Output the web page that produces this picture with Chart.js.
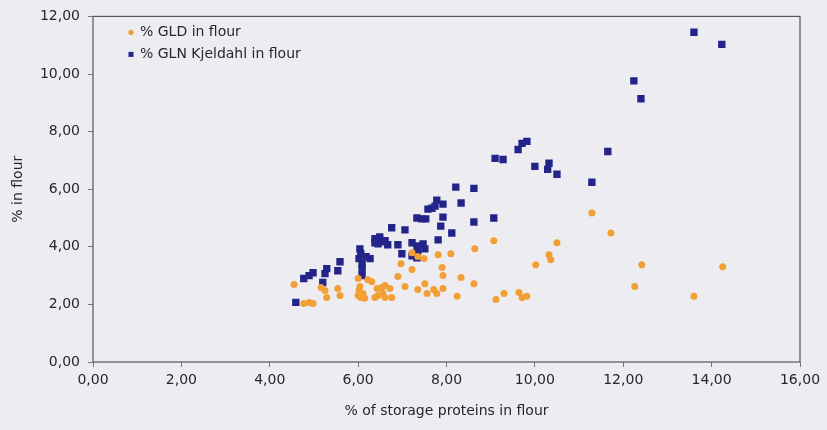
<!DOCTYPE html>
<html>
<head>
<meta charset="utf-8">
<script src="https://cdn.jsdelivr.net/npm/chart.js@4/dist/chart.umd.min.js"></script>
<style>
  html, body { margin: 0; padding: 0; background: #edecf0; }
  #wrap { width: 827px; height: 430px; }
</style>
</head>
<body>
<div id="wrap"><canvas id="chart" width="827" height="430"></canvas></div>
<script>
// x = % of storage proteins in flour, y = % in flour
const gldX = [4.55, 4.77, 4.89, 4.98, 5.16, 5.25, 5.29, 5.54, 5.59, 6.00, 6.04, 6.02, 6.00, 6.06, 6.11, 6.15,
  6.22, 6.31, 6.43, 6.54, 6.61, 6.38, 6.45, 6.56, 6.61, 6.76, 6.72, 6.90, 6.97, 7.06, 7.22, 7.35, 7.49, 7.22,
  7.35, 7.51, 7.56, 7.71, 7.78, 7.92, 7.81, 8.10, 7.90, 7.92, 8.33, 8.62, 8.24, 8.64, 9.07, 9.12, 9.30, 9.64,
  9.71, 9.82, 10.02, 10.32, 10.36, 10.50, 11.29, 11.72, 12.42, 12.26, 13.60, 14.25];
const gldY = [2.69, 2.03, 2.07, 2.03, 2.59, 2.48, 2.24, 2.55, 2.31, 2.90, 2.62, 2.48, 2.31, 2.24, 2.38, 2.21,
  2.86, 2.79, 2.55, 2.59, 2.66, 2.24, 2.31, 2.38, 2.24, 2.24, 2.55, 2.97, 3.41, 2.62, 3.79, 3.66, 3.59, 3.21,
  2.52, 2.72, 2.38, 2.52, 2.38, 2.55, 3.72, 3.76, 3.28, 3.00, 2.93, 2.72, 2.28, 3.93, 4.21, 2.17, 2.38, 2.41,
  2.24, 2.28, 3.38, 3.72, 3.55, 4.14, 5.17, 4.48, 3.38, 2.62, 2.28, 3.31];

const glnX = [4.59, 4.77, 4.89, 4.98, 5.20, 5.25, 5.29, 5.54, 5.59, 6.04, 6.06, 6.02, 6.09, 6.09, 6.18, 6.27,
  6.09, 6.38, 6.49, 6.61, 6.45, 6.67, 6.54, 6.38, 6.76, 7.06, 6.90, 7.22, 7.33, 7.47, 7.51, 7.35, 7.22, 7.33,
  6.99, 7.81, 8.12, 7.92, 7.87, 8.62, 7.33, 7.44, 7.53, 7.58, 7.67, 7.74, 7.78, 7.92, 8.33, 8.21, 8.62, 9.07,
  9.10, 9.28, 9.62, 9.71, 9.82, 10.00, 10.32, 10.29, 10.50, 11.29, 11.65, 12.24, 12.40, 13.60, 14.23];
const glnY = [2.07, 2.90, 3.00, 3.10, 2.76, 3.07, 3.24, 3.17, 3.48, 3.93, 3.76, 3.59, 3.41, 3.24, 3.66, 3.59,
  3.00, 4.28, 4.34, 4.21, 4.10, 4.07, 4.17, 4.14, 4.66, 4.59, 4.07, 4.14, 4.03, 4.10, 3.93, 3.86, 3.69, 3.62,
  3.76, 4.24, 4.48, 5.03, 4.72, 4.86, 5.00, 4.97, 4.97, 5.31, 5.34, 5.41, 5.62, 5.48, 5.52, 6.07, 6.03, 5.00,
  7.07, 7.03, 7.38, 7.59, 7.66, 6.79, 6.90, 6.69, 6.52, 6.24, 7.31, 9.76, 9.14, 11.45, 11.03];

const seriesLabels = ['% GLD in flour', '% GLN Kjeldahl in flour'];
const xTitle = '% of storage proteins in flour';
const yTitle = '% in flour';

const ORANGE = '#f2a035';
const NAVY = '#22248a';
const TEXT = '#26262c';
const FONT = "'DejaVu Sans', sans-serif";

const toPoints = (xs, ys) => xs.map((x, i) => ({ x: x, y: ys[i] }));
const comma = v => v.toFixed(2).replace('.', ',');

// frame around the plot + legend inside the top-left corner
const framePlugin = {
  id: 'frame',
  afterDatasetsDraw(chart) {
    const { ctx, chartArea: a } = chart;
    ctx.save();
    ctx.strokeStyle = '#55555c';
    ctx.lineWidth = 1.2;
    ctx.strokeRect(a.left, a.top, a.right - a.left, a.bottom - a.top);

    ctx.font = '14px ' + FONT;
    ctx.textBaseline = 'middle';
    chart.data.datasets.forEach((ds, i) => {
      const y = a.top + 16 + i * 22;
      const x = a.left + 38;
      ctx.fillStyle = ds.backgroundColor;
      if (ds.pointStyle === 'rect') {
        ctx.fillRect(x - 2.5, y - 2.5, 5, 5);
      } else {
        ctx.beginPath();
        ctx.arc(x, y, 2.6, 0, Math.PI * 2);
        ctx.fill();
      }
      ctx.fillStyle = TEXT;
      ctx.fillText(ds.label, x + 9, y);
    });
    ctx.restore();
  }
};

new Chart(document.getElementById('chart'), {
  type: 'scatter',
  data: {
    datasets: [
      {
        label: seriesLabels[0],
        data: toPoints(gldX, gldY),
        backgroundColor: ORANGE,
        borderColor: ORANGE,
        pointStyle: 'circle',
        pointRadius: 3.5,
        borderWidth: 0
      },
      {
        label: seriesLabels[1],
        data: toPoints(glnX, glnY),
        backgroundColor: NAVY,
        borderColor: NAVY,
        pointStyle: 'rect',
        pointRadius: 5.2,
        borderWidth: 0
      }
    ]
  },
  options: {
    responsive: false,
    animation: false,
    layout: { padding: { left: 6, right: 27, top: 12, bottom: 6 } },
    plugins: {
      legend: { display: false },
      tooltip: { enabled: false }
    },
    scales: {
      x: {
        type: 'linear',
        min: 0,
        max: 16,
        ticks: {
          stepSize: 2,
          callback: comma,
          color: TEXT,
          font: { family: FONT, size: 14 },
          padding: 5
        },
        grid: { drawOnChartArea: false, drawTicks: true, tickLength: 5, color: '#77777e' },
        border: { display: false },
        title: {
          display: true,
          text: xTitle,
          color: TEXT,
          font: { family: FONT, size: 14 },
          padding: { top: 9 }
        },
        afterFit: s => { s.height = 430 - 362 - 6; }
      },
      y: {
        type: 'linear',
        min: 0,
        max: 12,
        ticks: {
          stepSize: 2,
          callback: comma,
          color: TEXT,
          font: { family: FONT, size: 14 },
          padding: 8
        },
        grid: { drawOnChartArea: false, drawTicks: true, tickLength: 5, color: '#77777e' },
        border: { display: false },
        title: {
          display: true,
          text: yTitle,
          color: TEXT,
          font: { family: FONT, size: 14 },
          padding: { bottom: 4 }
        },
        afterFit: s => { s.width = 93 - 6; }
      }
    }
  },
  plugins: [framePlugin]
});
</script>
</body>
</html>
